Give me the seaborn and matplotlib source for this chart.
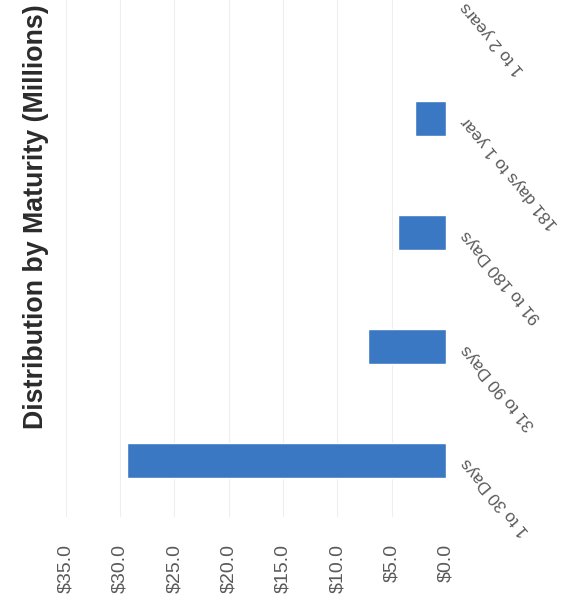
import seaborn as sns
import matplotlib
matplotlib.use("Agg")
import matplotlib.pyplot as plt
from matplotlib.ticker import FuncFormatter

categories = ["1 to 30 Days", "31 to 90 Days", "91 to 180 Days", "181 days to 1 year", "1 to 2 years"]
amounts = [29.4, 7.2, 4.4, 2.8, 0.0]  # millions of dollars
value_ticks = [0, 5, 10, 15, 20, 25, 30, 35]

sns.set_style("white")
plt.rcParams["font.family"] = ["Liberation Sans", "DejaVu Sans"]

fig = plt.figure(figsize=(5.63, 6.08), dpi=100)
ax = fig.add_axes([0.117, 0.149, 0.675, 0.851])

sns.barplot(x=amounts, y=categories, orient="h", color="#3b78c4",
            width=0.31, saturation=1, ax=ax)

# chart is scanned sideways: zero on the right, first category at the bottom
ax.set_xlim(35, 0)
ax.set_ylim(-0.5, 4.04)

ax.set_xticks(value_ticks)
ax.xaxis.set_major_formatter(FuncFormatter(lambda v, p: f"${v:.1f}"))
ax.tick_params(axis="x", length=0, pad=19, labelsize=14, labelcolor="#5a5a5a")
for lbl in ax.get_xticklabels():
    lbl.set_rotation(90)

ax.yaxis.tick_right()
ax.tick_params(axis="y", length=0, pad=13, labelsize=12.3, labelcolor="#5a5a5a")
for lbl in ax.get_yticklabels():
    lbl.set_rotation(130)
    lbl.set_ha("right")
    lbl.set_va("center")
    lbl.set_rotation_mode("anchor")

ax.grid(axis="x", color="#eeeeee", linewidth=0.8)
ax.set_axisbelow(True)
sns.despine(ax=ax, left=True, bottom=True, right=True, top=True)
ax.set_xlabel("")
ax.set_ylabel("")

fig.text(0.064, 0.643, "Distribution by Maturity (Millions)", rotation=90,
         ha="center", va="center", fontsize=19.3, fontweight="bold", color="#2b2b2b")

fig.savefig("out.png", dpi=100)
